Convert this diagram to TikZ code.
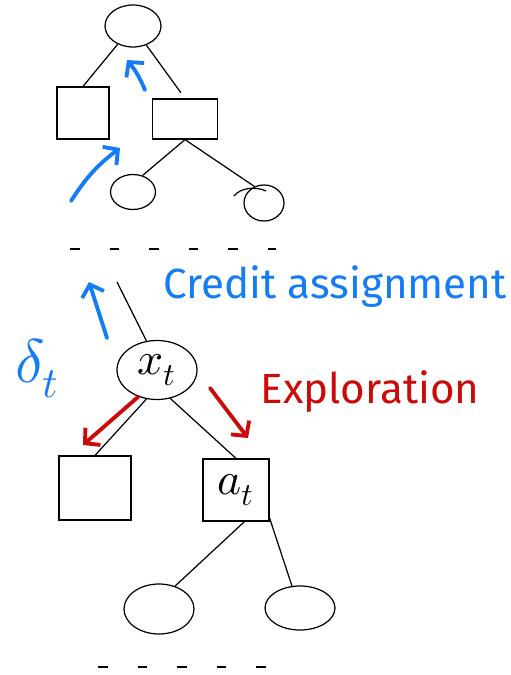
\documentclass[tikz,border=0pt]{standalone}
\usepackage{fontspec}
\usepackage{unicode-math}
\setmainfont{Fira Sans}
\setmathfont{Latin Modern Math}
\usetikzlibrary{shapes.geometric,arrows.meta,positioning}
\definecolor{creditblue}{RGB}{20,125,245}
\definecolor{explred}{RGB}{205,10,10}

\begin{document}
\begin{tikzpicture}[x=0.02cm,y=-0.02cm,line width=0.7pt,
		state/.style={ellipse,draw,inner sep=0pt},
		act/.style={rectangle,draw,inner sep=0pt},
		credit/.style={draw=creditblue,line width=2.2pt,line cap=round,-{Straight Barb[length=6pt,width=13pt]}},
		explore/.style={draw=explred,line width=2.2pt,line cap=round,-{Straight Barb[length=6pt,width=13pt]}},
		cut/.style={dash pattern=on 5.5pt off 17pt},
		note/.style={font=\fontsize{24}{28}\selectfont}]
		\useasboundingbox (0,0) rectangle (510,675);

		% upper part of the tree
		\node[state,minimum width=1.12cm,minimum height=0.84cm] (root) at (133,26) {};
		\node[act,minimum width=1.04cm,minimum height=1.04cm] (lbox) at (83,113) {};
		\node[act,minimum width=1.3cm,minimum height=0.8cm] (rbox) at (185,119) {};
		\node[state,minimum width=0.9cm,minimum height=0.7cm] (lleaf) at (133,192) {};
		\node[state,minimum width=0.8cm,minimum height=0.72cm] (rleaf) at (264,203) {};

		\draw (root.230) -- (lbox.north);
		\draw[shorten >=4pt] (root.-55) -- (rbox.north);
		\draw (rbox.south) -- (lleaf.60);
		\draw (rbox.south) -- (rleaf.120);
		\draw (234,196) .. controls (240,188) and (255,186) .. (266,191);

		% cut in the tree
		\coordinate (cutl) at (70,249);
		\coordinate (cutr) at (276,249);
		\draw[cut] (cutl) -- (cutr);

		% current step
		\node[state,minimum width=1.6cm,minimum height=1.18cm,font=\fontsize{26}{28}\selectfont] (xt) at (157,370) {$x_t$};
		\node[act,minimum width=1.44cm,minimum height=1.28cm] (lact) at (95,488) {};
		\node[act,minimum width=1.32cm,minimum height=1.24cm,font=\fontsize{26}{28}\selectfont] (at) at (236,490) {$a_t$};
		\node[state,minimum width=1.4cm,minimum height=1.0cm] (lnext) at (159,609) {};
		\node[state,minimum width=1.4cm,minimum height=0.88cm] (rnext) at (300,608) {};

		\coordinate (up) at (117,282);
		\draw (xt.110) -- (up);
		\draw (xt.250) -- (lact.north);
		\draw (xt.-65) -- (at.north);
		\draw (at.-75) -- (lnext.55);
		\draw (at.-40) -- (rnext.110);

		\coordinate (cutl2) at (98,667);
		\coordinate (cutr2) at (282,667);
		\draw[cut] (cutl2) -- (cutr2);

		% credit assignment
		\coordinate (c1s) at (71,201);
		\coordinate (c1e) at (120,148);
		\coordinate (c2s) at (145,90);
		\coordinate (c2e) at (127,60);
		\coordinate (c3s) at (107,338);
		\coordinate (c3e) at (89,282);
		\draw[credit] (c1s) to[bend left=10] (c1e);
		\draw[credit] (c2s) to[bend right=8] (c2e);
		\draw[credit] (c3s) -- (c3e);
		\node[note,text=creditblue] (credit) at (335,287) {Credit assignment};
		\node[text=creditblue,font=\fontsize{35}{37}\selectfont] (delta) at (37,368) {$\delta_t$};

		% exploration
		\coordinate (e1e) at (83,445);
		\coordinate (e2s) at (210,388);
		\coordinate (e2e) at (248,438);
		\draw[explore] (xt.235) -- (e1e);
		\draw[explore] (e2s) -- (e2e);
		\node[note,text=explred] (explore) at (370,392) {Exploration};
	\end{tikzpicture}
\end{document}
